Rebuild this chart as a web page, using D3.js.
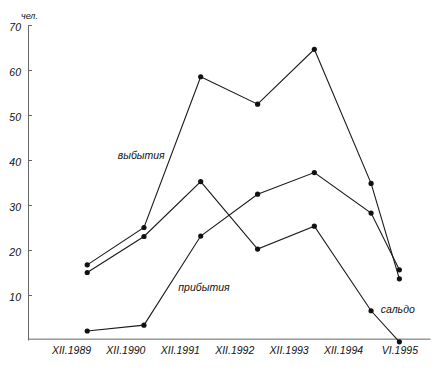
<!DOCTYPE html>
<html>
<head>
<meta charset="utf-8">
<script src="https://cdn.jsdelivr.net/npm/d3@7"></script>
<style>
  body { margin: 0; background: #fff; }
  text { font-family: "Liberation Sans", Arial, sans-serif; font-style: italic; fill: #111; }
</style>
</head>
<body>
<div id="chart"></div>
<script>
// periods (month index 0-based)
var periods = [
  new Date(1989, 11, 1), new Date(1990, 11, 1), new Date(1991, 11, 1),
  new Date(1992, 11, 1), new Date(1993, 11, 1), new Date(1994, 11, 1),
  new Date(1995, 5, 1)
];
var periodLabels = ["XII.1989", "XII.1990", "XII.1991", "XII.1992", "XII.1993", "XII.1994", "VI.1995"];

// series values, persons
var departures = [16.7, 25.0, 58.5, 52.4, 64.6, 34.8, 13.6];   // выбытия
var arrivals   = [2.0, 3.3, 23.1, 32.4, 37.2, 28.2, 15.6];     // прибытия
var balance    = [15.0, 23.0, 35.2, 20.2, 25.3, 6.5, -0.4];    // сальдо

var yTicks = [10, 20, 30, 40, 50, 60, 70];

var width = 439, height = 368;

var svg = d3.select("#chart")
  .append("svg")
    .attr("width", width)
    .attr("height", height);

// scales
var x = d3.scaleTime()
  .domain([new Date(1988, 10, 15), new Date(1995, 11, 15)])
  .range([28, 430]);

var y = d3.scaleLinear()
  .domain([0, 70])
  .range([340, 25]);

// Y axis
var yAxis = svg.append("g")
  .attr("transform", "translate(28,0)")
  .call(d3.axisLeft(y)
    .tickValues(yTicks)
    .tickSizeInner(-4)
    .tickSizeOuter(0)
    .tickPadding(7));
yAxis.select(".domain").attr("stroke", "#666");
yAxis.selectAll(".tick line").attr("stroke", "#666");
yAxis.selectAll(".tick text")
  .attr("dy", "0.55em")
  .style("font-size", "10.5px")
  .style("font-family", "'Liberation Sans', Arial, sans-serif");

// X axis
var xAxis = svg.append("g")
  .attr("transform", "translate(0," + y(0.3) + ")")
  .call(d3.axisBottom(x)
    .tickValues(periods)
    .tickSize(0)
    .tickPadding(8)
    .tickFormat(function(d, i) { return periodLabels[i]; }));
xAxis.select(".domain").attr("stroke", "#666");
// labels sit evenly spaced, a bit left of their points (last one under its point)
var labelPos = d3.scalePoint().domain(d3.range(6)).range([71, 343]);
xAxis.selectAll(".tick text")
  .style("font-size", "10.5px")
  .style("font-family", "'Liberation Sans', Arial, sans-serif")
  .attr("x", function(d, i) { return i < 6 ? labelPos(i) - x(periods[i]) : 0; });

// lines and dots
var line = d3.line()
  .x(function(d, i) { return x(periods[i]); })
  .y(function(d) { return y(d); });

[departures, arrivals, balance].forEach(function(s) {
  svg.append("path")
    .datum(s)
    .attr("fill", "none")
    .attr("stroke", "#1a1a1a")
    .attr("stroke-width", 1.1)
    .attr("d", line);
  svg.append("g")
    .selectAll("circle")
    .data(s)
    .enter()
    .append("circle")
      .attr("cx", function(d, i) { return x(periods[i]); })
      .attr("cy", function(d) { return y(d); })
      .attr("r", 2.6)
      .attr("fill", "#111");
});

// series labels
svg.append("text")
  .attr("x", x(new Date(1990, 5, 15)))
  .attr("y", y(40.2))
  .style("font-size", "10.5px")
  .text("выбытия");
svg.append("text")
  .attr("x", x(new Date(1991, 6, 10)))
  .attr("y", y(10.9))
  .style("font-size", "10.5px")
  .text("прибытия");
svg.append("text")
  .attr("x", x(new Date(1995, 1, 1)))
  .attr("y", y(6.0))
  .style("font-size", "10.5px")
  .text("сальдо");

// unit
svg.append("text")
  .attr("x", 21)
  .attr("y", y(70) - 6)
  .style("font-size", "9px")
  .text("чел.");
</script>
</body>
</html>
